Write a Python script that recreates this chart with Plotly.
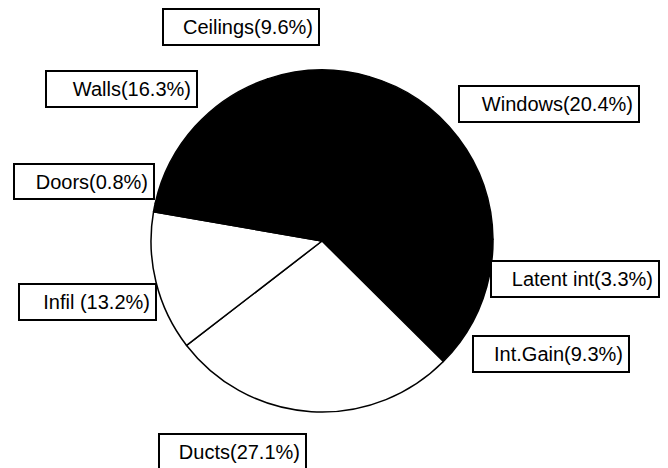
import plotly.graph_objects as go

labels = ["Windows", "Latent int", "Int.Gain", "Ducts", "Infil", "Doors", "Walls", "Ceilings"]
values = [20.4, 3.3, 9.3, 27.1, 13.2, 0.8, 16.3, 9.6]
colors = ["black", "black", "black", "white", "white", "black", "black", "black"]
label_texts = ["Windows(20.4%)", "Latent int(3.3%)", "Int.Gain(9.3%)", "Ducts(27.1%)",
               "Infil (13.2%)", "Doors(0.8%)", "Walls(16.3%)", "Ceilings(9.6%)"]
# box left, top, right, bottom (px)
boxes = [(458, 85, 640, 123), (490, 260, 660, 298), (472, 335, 630, 373), (158, 433, 307, 471),
         (18, 283, 157, 321), (13, 163, 155, 200), (45, 70, 198, 108), (162, 8, 320, 46)]

W, H = 668, 468
cx, cy, r = 322, 241, 171

fig = go.Figure(go.Pie(
    labels=labels, values=values, sort=False, direction="clockwise", rotation=16,
    marker=dict(colors=colors, line=dict(color="black", width=1.5)),
    textinfo="none", hoverinfo="label+percent", showlegend=False,
    domain=dict(x=[(cx - r) / W, (cx + r) / W], y=[1 - (cy + r) / H, 1 - (cy - r) / H]),
))

pad, bw = 5, 2
ann = []
for t, (x0, y0, x1, y1) in zip(label_texts, boxes):
    ann.append(dict(
        text=t, xref="paper", yref="paper", x=x0 / W, y=1 - y0 / H,
        xanchor="left", yanchor="top", showarrow=False, align="right", valign="middle",
        width=x1 - x0 - 2 * (pad + bw), height=y1 - y0 - 2 * (pad + bw),
        borderpad=pad, borderwidth=bw, bordercolor="black", bgcolor="white",
        font=dict(family="Liberation Sans, Arial, sans-serif", size=20, color="black"),
    ))

fig.update_layout(width=W, height=H, margin=dict(l=0, r=0, t=0, b=0),
                  paper_bgcolor="white", plot_bgcolor="white", annotations=ann)
fig.write_html("out.html", config={"displayModeBar": False},
               post_script="document.body.style.margin='0';document.body.style.overflow='hidden';")
